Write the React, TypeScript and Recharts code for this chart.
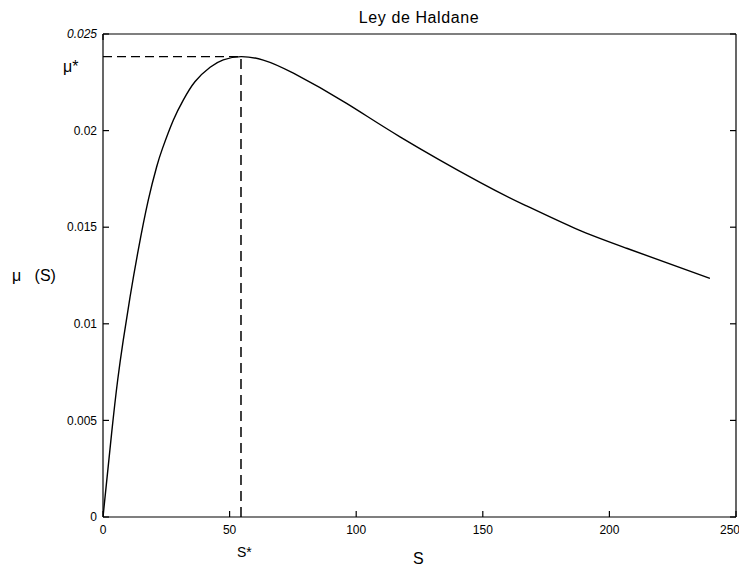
import { LineChart, Line, XAxis, YAxis, ReferenceLine } from 'recharts';

// substrate concentration S and growth rate mu(S)
const sValues = [
  0, 3.4, 5.8, 8.0, 10.7, 13.9, 17.9, 21.2, 23.5, 27.8, 31.7, 36.3, 42.3, 47.5,
  54.5, 63.3, 75.2, 96.2, 117.3, 148.9, 167.3, 187.1, 206.8, 239.7,
];
const muValues = [
  0, 0.00433, 0.00709, 0.00916, 0.0114, 0.0138, 0.01641, 0.01813, 0.01908,
  0.02055, 0.02158, 0.02253, 0.02328, 0.02366, 0.02383, 0.02365, 0.02297,
  0.02141, 0.01968, 0.01732, 0.0161, 0.0149, 0.01391, 0.01235,
];

const xTicks = [0, 50, 100, 150, 200, 250];
const yTicks = [0, 0.005, 0.01, 0.015, 0.02, 0.025];

const sStar = 54.5;
const muStar = 0.02383;

const data = sValues.map((s, i) => ({ s, mu: muValues[i] }));

const font = '"Liberation Sans", Arial, sans-serif';
const tickStyle = { fontSize: 12, fill: '#000', fontFamily: font };
const axisLine = { stroke: '#000', strokeWidth: 1.2 };

const YTick = (props: any) => {
  const { x, y, payload } = props;
  const italic = payload.value === 0.025;
  return (
    <text
      x={x}
      y={y}
      dy="0.35em"
      textAnchor="end"
      fontSize={12}
      fontFamily={font}
      fontStyle={italic ? 'italic' : 'normal'}
      fill="#000"
    >
      {String(payload.value)}
    </text>
  );
};

const textBase = {
  position: 'absolute' as const,
  fontFamily: font,
  color: '#000',
  whiteSpace: 'nowrap' as const,
  lineHeight: 1,
};

export default function App() {
  return (
    <div style={{ position: 'absolute', left: 0, top: 0, width: 739, height: 569, background: '#fff', overflow: 'hidden' }}>
      <LineChart
        width={739}
        height={569}
        data={data}
        margin={{ top: 33, right: 2, bottom: 22, left: 43 }}
      >
        <XAxis
          dataKey="s"
          type="number"
          domain={[0, 250]}
          ticks={xTicks}
          allowDataOverflow
          height={30}
          tickSize={-6}
          tickMargin={14}
          tick={tickStyle}
          tickLine={axisLine}
          axisLine={axisLine}
        />
        <XAxis
          xAxisId="top"
          orientation="top"
          type="number"
          domain={[0, 250]}
          ticks={xTicks}
          allowDataOverflow
          height={1}
          tickSize={-6}
          tickFormatter={() => ''}
          tickLine={axisLine}
          axisLine={axisLine}
        />
        <YAxis
          type="number"
          domain={[0, 0.025]}
          ticks={yTicks}
          allowDataOverflow
          width={60}
          tickSize={-6}
          tickMargin={12}
          tick={<YTick />}
          tickLine={axisLine}
          axisLine={axisLine}
        />
        <YAxis
          yAxisId="right"
          orientation="right"
          type="number"
          domain={[0, 0.025]}
          ticks={yTicks}
          allowDataOverflow
          width={1}
          tickSize={-6}
          tickFormatter={() => ''}
          tickLine={axisLine}
          axisLine={axisLine}
        />
        <ReferenceLine
          segment={[
            { x: 0, y: muStar },
            { x: sStar, y: muStar },
          ]}
          stroke="#000"
          strokeWidth={1.3}
          strokeDasharray="9 5"
        />
        <ReferenceLine
          segment={[
            { x: sStar, y: 0 },
            { x: sStar, y: muStar },
          ]}
          stroke="#000"
          strokeWidth={1.5}
          strokeDasharray="10 6"
        />
        <Line
          type="natural"
          dataKey="mu"
          stroke="#000"
          strokeWidth={1.4}
          dot={false}
          isAnimationActive={false}
        />
      </LineChart>
      <div style={{ ...textBase, left: 419, top: 10, fontSize: 16, letterSpacing: 0.6, transform: 'translateX(-50%)' }}>
        Ley de Haldane
      </div>
      <div style={{ ...textBase, left: 12, top: 268, fontSize: 16 }}>
        μ&nbsp;&nbsp;&nbsp;(S)
      </div>
      <div style={{ ...textBase, left: 63, top: 59, fontSize: 16 }}>μ*</div>
      <div style={{ ...textBase, left: 237, top: 545, fontSize: 14 }}>S*</div>
      <div style={{ ...textBase, left: 413, top: 551, fontSize: 16 }}>S</div>
    </div>
  );
}
